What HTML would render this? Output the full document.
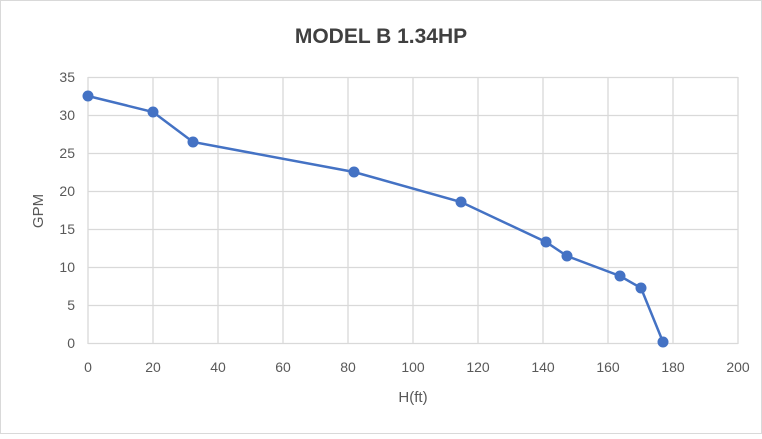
<!DOCTYPE html>
<html><head><style>body{margin:0;background:#fff}</style></head><body>
<svg width="762" height="434" xmlns="http://www.w3.org/2000/svg" font-family="Liberation Sans, sans-serif">
<rect x="0.5" y="0.5" width="761" height="433" fill="#fff" stroke="#d9d9d9"/>
<text x="381" y="43" text-anchor="middle" font-size="21" font-weight="bold" fill="#404040">MODEL B 1.34HP</text>
<g stroke="#d9d9d9" stroke-width="1.3">
<line x1="88" y1="77.5" x2="738" y2="77.5"/><line x1="88" y1="115.5" x2="738" y2="115.5"/>
<line x1="88" y1="153.5" x2="738" y2="153.5"/><line x1="88" y1="191.5" x2="738" y2="191.5"/>
<line x1="88" y1="229.5" x2="738" y2="229.5"/><line x1="88" y1="267.5" x2="738" y2="267.5"/>
<line x1="88" y1="305.5" x2="738" y2="305.5"/><line x1="88" y1="343.5" x2="738" y2="343.5"/>
<line x1="88" y1="77" x2="88" y2="344"/><line x1="153" y1="77" x2="153" y2="344"/>
<line x1="218" y1="77" x2="218" y2="344"/><line x1="283" y1="77" x2="283" y2="344"/>
<line x1="348" y1="77" x2="348" y2="344"/><line x1="413" y1="77" x2="413" y2="344"/>
<line x1="478" y1="77" x2="478" y2="344"/><line x1="543" y1="77" x2="543" y2="344"/>
<line x1="608" y1="77" x2="608" y2="344"/><line x1="673" y1="77" x2="673" y2="344"/>
<line x1="738" y1="77" x2="738" y2="344"/>
</g>
<g font-size="14" fill="#595959" text-anchor="end">
<text x="75" y="82">35</text><text x="75" y="120">30</text><text x="75" y="158">25</text><text x="75" y="196">20</text>
<text x="75" y="234">15</text><text x="75" y="272">10</text><text x="75" y="310">5</text><text x="75" y="348">0</text>
</g>
<g font-size="14" fill="#595959" text-anchor="middle">
<text x="88" y="372">0</text><text x="153" y="372">20</text><text x="218" y="372">40</text><text x="283" y="372">60</text>
<text x="348" y="372">80</text><text x="413" y="372">100</text><text x="478" y="372">120</text><text x="543" y="372">140</text>
<text x="608" y="372">160</text><text x="673" y="372">180</text><text x="738" y="372">200</text>
</g>
<text x="413" y="402" text-anchor="middle" font-size="15" fill="#595959">H(ft)</text>
<text transform="translate(43,211) rotate(-90)" text-anchor="middle" font-size="15" fill="#595959">GPM</text>
<polyline fill="none" stroke="#4472c4" stroke-width="2.5" points="88,96 153,112 193,142 354,172 461,202 546,242 567,256 620,276 641,288 663,342"/>
<g fill="#4472c4">
<circle cx="88" cy="96" r="5.5"/><circle cx="153" cy="112" r="5.5"/><circle cx="193" cy="142" r="5.5"/>
<circle cx="354" cy="172" r="5.5"/><circle cx="461" cy="202" r="5.5"/><circle cx="546" cy="242" r="5.5"/>
<circle cx="567" cy="256" r="5.5"/><circle cx="620" cy="276" r="5.5"/><circle cx="641" cy="288" r="5.5"/>
<circle cx="663" cy="342" r="5.5"/>
</g>
</svg>
</body></html>
